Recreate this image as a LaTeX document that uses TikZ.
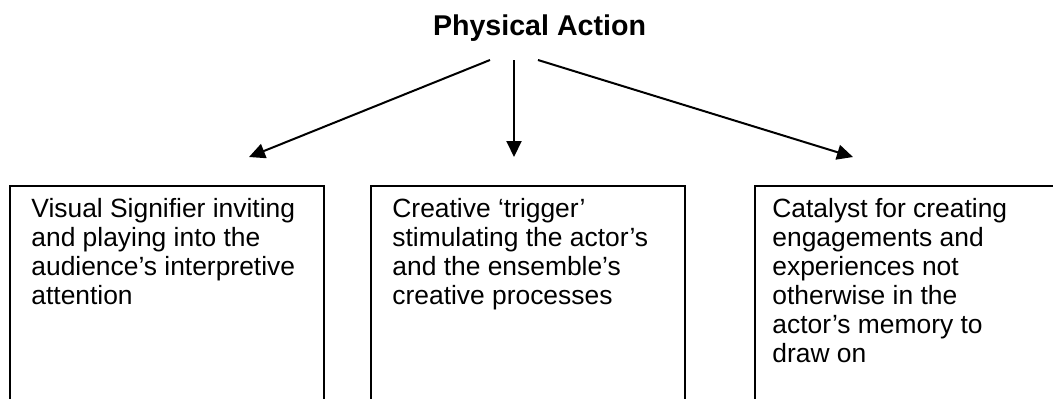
\documentclass[tikz,border=0pt]{standalone}
\usepackage{fontspec}
\setmainfont{Liberation Sans}
\usetikzlibrary{arrows.meta}

\begin{document}
\begin{tikzpicture}[x=0.5pt,y=-0.5pt]
	\tikzstyle{every node}+=[inner sep=0pt]
	\tikzstyle{box}=[draw=black,line width=0.9pt,minimum width=157pt,minimum height=130pt,anchor=north west]
	\tikzstyle{boxtext}=[anchor=base west,font=\fontsize{13.2}{14.5}\selectfont]
	\tikzstyle{link}=[line width=1pt,-{Triangle[length=8pt,width=7.5pt]}]
	\useasboundingbox (0,0) rectangle (1053,398);
	\clip (0,0) rectangle (1053,398);
	\node (title) at (539.5,35) [anchor=base,font=\fontsize{14.3}{16}\selectfont\bfseries] {Physical Action};
	\coordinate (s1) at (490,60);
	\coordinate (s2) at (514,60);
	\coordinate (s3) at (538,60);
	\coordinate (e1) at (249,157);
	\coordinate (e2) at (514,157);
	\coordinate (e3) at (853,157);
	\draw [link] (s1) -- (e1);
	\draw [link] (s2) -- (e2);
	\draw [link] (s3) -- (e3);
	\node (b1) at (9,185) [box] {};
	\node (b2) at (370,185) [box] {};
	\node (b3) at (754,185) [box] {};
	\node (t1) at (31,217) [boxtext] {\parbox[t]{150pt}{Visual Signifier inviting\\ and playing into the\\ audience’s interpretive\\ attention}};
	\node (t2) at (392,217) [boxtext] {\parbox[t]{150pt}{Creative ‘trigger’\\ stimulating the actor’s\\ and the ensemble’s\\ creative processes}};
	\node (t3) at (772,217) [boxtext] {\parbox[t]{150pt}{Catalyst for creating\\ engagements and\\ experiences not\\ otherwise in the\\ actor’s memory to\\ draw on}};
\end{tikzpicture}
\end{document}
